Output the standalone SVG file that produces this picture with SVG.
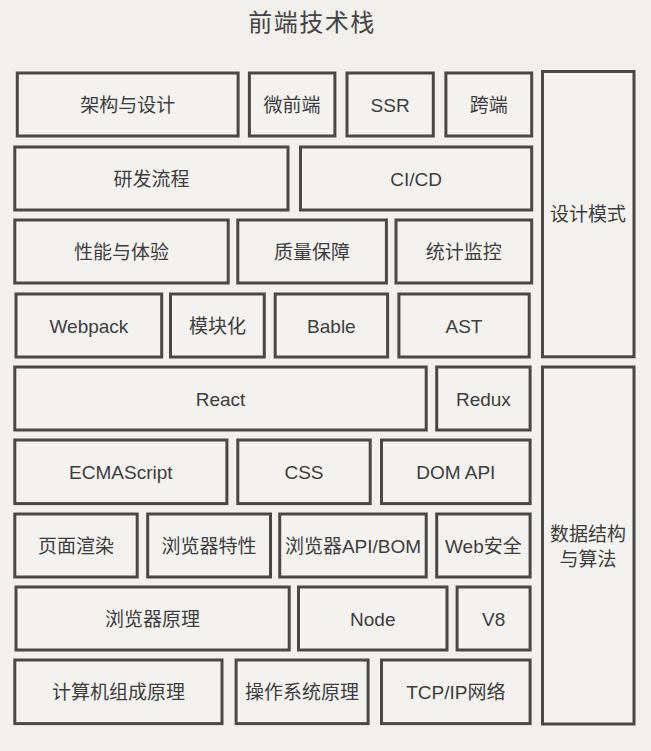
<svg xmlns="http://www.w3.org/2000/svg" width="651" height="751" viewBox="0 0 651 751">
<style>
  .bg { fill: #f1f0ec; }
  .box { fill: #f3f2ef; stroke: #4a4844; stroke-width: 3; }
  .lbl { font-family: "Liberation Sans", "Noto Sans CJK SC", sans-serif; font-size: 19px; fill: #3d3d3d; text-anchor: middle; }
  .title { font-family: "Noto Sans CJK SC", sans-serif; font-size: 24px; fill: #444; text-anchor: middle; letter-spacing: 1.5px; }
</style>
<rect class="bg" x="0" y="0" width="651" height="751"/>
<text class="title" x="312" y="30.5">前端技术栈</text>

<g id="n-arch"><rect class="box" x="17.3" y="73" width="220.8" height="63"/><text class="lbl" x="127.7" y="111.5">架构与设计</text></g>
<g id="n-mfe"><rect class="box" x="249.4" y="73" width="85.5" height="63"/><text class="lbl" x="292.1" y="111.5">微前端</text></g>
<g id="n-ssr"><rect class="box" x="347" y="73" width="86.3" height="63"/><text class="lbl" x="390.1" y="111.8">SSR</text></g>
<g id="n-cross"><rect class="box" x="445.9" y="73" width="85.8" height="63"/><text class="lbl" x="488.8" y="111.5">跨端</text></g>

<g id="n-devflow"><rect class="box" x="14.8" y="147" width="273.2" height="63"/><text class="lbl" x="151.4" y="185.5">研发流程</text></g>
<g id="n-cicd"><rect class="box" x="300.5" y="147" width="231.2" height="63"/><text class="lbl" x="416.1" y="185.8">CI/CD</text></g>

<g id="n-perf"><rect class="box" x="14.8" y="220" width="213.4" height="63"/><text class="lbl" x="121.5" y="258.5">性能与体验</text></g>
<g id="n-qa"><rect class="box" x="237.8" y="220" width="148.6" height="63"/><text class="lbl" x="312.1" y="258.5">质量保障</text></g>
<g id="n-monitor"><rect class="box" x="396" y="220" width="135.7" height="63"/><text class="lbl" x="463.8" y="258.5">统计监控</text></g>

<g id="n-webpack"><rect class="box" x="16" y="294" width="145.7" height="63"/><text class="lbl" x="88.9" y="332.5">Webpack</text></g>
<g id="n-module"><rect class="box" x="170.5" y="294" width="93.8" height="63"/><text class="lbl" x="217.4" y="332.5">模块化</text></g>
<g id="n-bable"><rect class="box" x="275.2" y="294" width="112.4" height="63"/><text class="lbl" x="331.4" y="332.5">Bable</text></g>
<g id="n-ast"><rect class="box" x="398.9" y="294" width="130.3" height="63"/><text class="lbl" x="464" y="332.5">AST</text></g>

<g id="n-design"><rect class="box" x="542.5" y="71.5" width="91.5" height="285.3"/><text class="lbl" x="588" y="221">设计模式</text></g>

<g id="n-react"><rect class="box" x="14.8" y="367" width="411.4" height="63"/><text class="lbl" x="220.5" y="405.5">React</text></g>
<g id="n-redux"><rect class="box" x="436.7" y="367" width="93.4" height="63"/><text class="lbl" x="483.4" y="405.5">Redux</text></g>

<g id="n-es"><rect class="box" x="14.8" y="440" width="212.1" height="63.6"/><text class="lbl" x="120.8" y="479">ECMAScript</text></g>
<g id="n-css"><rect class="box" x="237.8" y="440" width="132.4" height="63.6"/><text class="lbl" x="304" y="479">CSS</text></g>
<g id="n-dom"><rect class="box" x="381.5" y="440" width="148.6" height="63.6"/><text class="lbl" x="455.8" y="479">DOM API</text></g>

<g id="n-render"><rect class="box" x="14.8" y="514" width="122.4" height="63"/><text class="lbl" x="76" y="552.5">页面渲染</text></g>
<g id="n-bfeat"><rect class="box" x="147.7" y="514" width="122.8" height="63"/><text class="lbl" x="209.1" y="552.5">浏览器特性</text></g>
<g id="n-bom"><rect class="box" x="279.7" y="514" width="146.5" height="63"/><text class="lbl" x="353" y="552.5">浏览器API/BOM</text></g>
<g id="n-websec"><rect class="box" x="436.7" y="514" width="93.4" height="63"/><text class="lbl" x="483.4" y="552.5">Web安全</text></g>

<g id="n-bprin"><rect class="box" x="16" y="587" width="273.2" height="63"/><text class="lbl" x="152.6" y="625.5">浏览器原理</text></g>
<g id="n-node"><rect class="box" x="298.5" y="587" width="148.5" height="63"/><text class="lbl" x="372.8" y="625.5">Node</text></g>
<g id="n-v8"><rect class="box" x="457.1" y="587" width="73" height="63"/><text class="lbl" x="493.6" y="625.5">V8</text></g>

<g id="n-comp"><rect class="box" x="14.8" y="660" width="207.2" height="63.6"/><text class="lbl" x="118.4" y="699">计算机组成原理</text></g>
<g id="n-os"><rect class="box" x="236.1" y="660" width="132" height="63.6"/><text class="lbl" x="302.1" y="699">操作系统原理</text></g>
<g id="n-net"><rect class="box" x="381.5" y="660" width="148.6" height="63.6"/><text class="lbl" x="455.8" y="699">TCP/IP网络</text></g>

<g id="n-algo"><rect class="box" x="542.5" y="367" width="91.5" height="357"/><text class="lbl" x="588" y="540.5">数据结构</text><text class="lbl" x="588" y="566">与算法</text></g>

<g id="connectors"></g>
</svg>
